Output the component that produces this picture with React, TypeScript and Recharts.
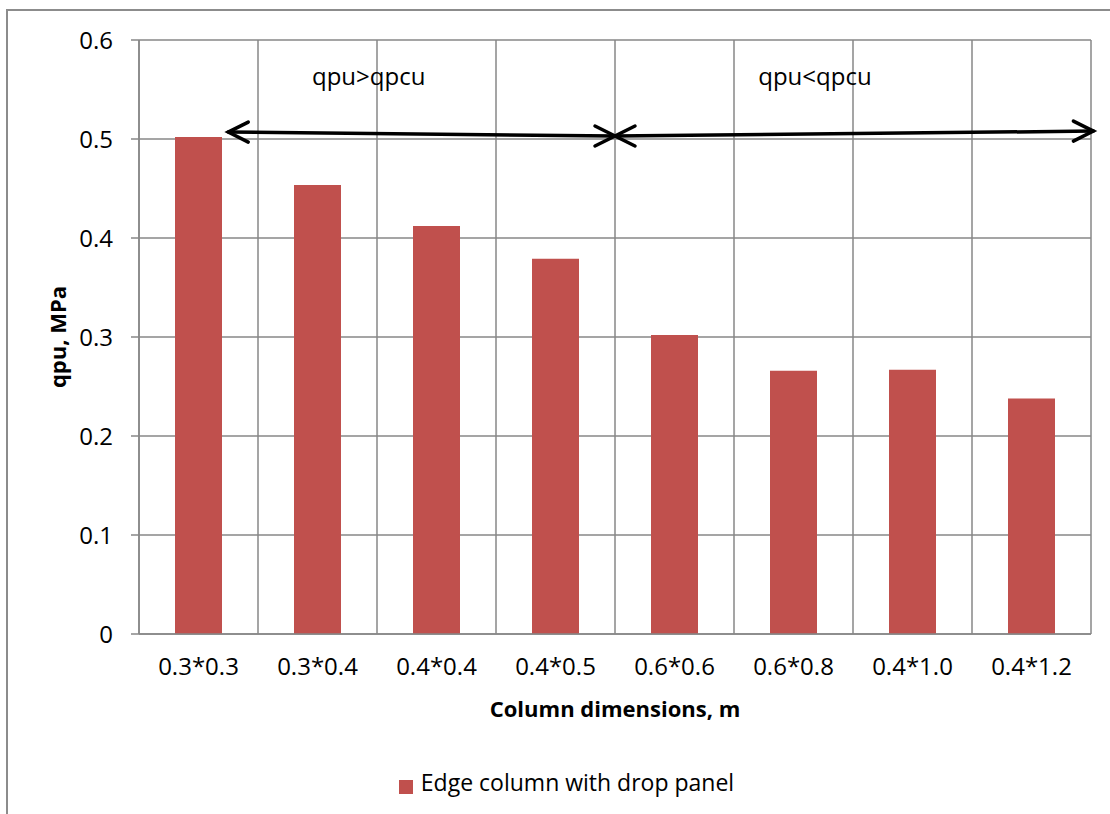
import React from 'react';
import {
  BarChart, Bar, XAxis, YAxis, CartesianGrid, Legend, ReferenceLine, ReferenceDot,
} from 'recharts';

const categories = ['0.3*0.3', '0.3*0.4', '0.4*0.4', '0.4*0.5', '0.6*0.6', '0.6*0.8', '0.4*1.0', '0.4*1.2'];
const qpuValues = [0.502, 0.4535, 0.412, 0.379, 0.302, 0.266, 0.267, 0.238];
const yTicks = [0, 0.1, 0.2, 0.3, 0.4, 0.5, 0.6];
// category boundaries, used for the vertical grid and the x tick marks
const boundaryTicks = [0, 1, 2, 3, 4, 5, 6, 7, 8];
const arrowSpans = [
  { x1: 0.75, y1: 0.507, x2: 4, y2: 0.503 },
  { x1: 4, y1: 0.503, x2: 8.02, y2: 0.508 },
];
const zoneLabels = [
  { x: 1.93, y: 0.5635, text: 'qpu>qpcu' },
  { x: 5.68, y: 0.5635, text: 'qpu<qpcu' },
];

const data = categories.map((label, i) => ({ label, qpu: qpuValues[i] }));

const FONT = '"Open Sans", sans-serif';
const GRID = '#878787';
const BAR = '#C0504D';

const DoubleArrow = (props: any) => {
  const { x1, y1, x2, y2 } = props;
  const head = 20;
  const half = 10;
  return (
    <g stroke="#000" strokeWidth={3.5} strokeLinecap="round" fill="none">
      <line x1={x1} y1={y1} x2={x2} y2={y2} />
      <path d={`M${x1 + head},${y1 - half} L${x1},${y1} L${x1 + head},${y1 + half}`} />
      <path d={`M${x2 - head},${y2 - half} L${x2},${y2} L${x2 - head},${y2 + half}`} />
    </g>
  );
};

const EmptyTick = () => <g />;

export default function App() {
  return (
    <div style={{ position: 'absolute', left: 0, top: 0, width: 1110, height: 814, overflow: 'hidden', background: '#fff' }}>
      <div
        style={{
          position: 'absolute', left: 6, top: 9, width: 1200, height: 900,
          border: '2px solid #8c8c8c', boxSizing: 'border-box',
        }}
      />
      <div style={{ position: 'absolute', left: 0, top: 0 }}>
        <BarChart
          width={1110}
          height={814}
          data={data}
          margin={{ top: 40, right: 19, left: 0, bottom: 0 }}
          style={{ fontFamily: FONT }}
        >
          <CartesianGrid stroke={GRID} strokeWidth={1.5} />
          <XAxis
            type="number"
            dataKey="slot"
            domain={[0, 8]}
            ticks={boundaryTicks}
            allowDataOverflow
            height={0}
            axisLine={false}
            tick={EmptyTick}
            tickLine={{ stroke: GRID, strokeWidth: 1.5 }}
            tickSize={8}
          />
          <XAxis
            xAxisId="cat"
            dataKey="label"
            height={116}
            axisLine={{ stroke: GRID, strokeWidth: 1.5 }}
            tickLine={false}
            tickSize={8}
            tickMargin={16}
            tick={{ fill: '#000', fontSize: 24, fontFamily: FONT }}
            label={{
              value: 'Column dimensions, m',
              position: 'insideTop',
              offset: 67,
              fill: '#000',
              fontSize: 22,
              fontWeight: 'bold',
              fontFamily: FONT,
            }}
          />
          <YAxis
            width={139}
            domain={[0, 0.6]}
            ticks={yTicks}
            tickFormatter={(v: number) => (v === 0 ? '0' : v.toFixed(1))}
            axisLine={{ stroke: GRID, strokeWidth: 1.5 }}
            tickLine={{ stroke: GRID, strokeWidth: 1.5 }}
            tickSize={8}
            tickMargin={18}
            tick={{ fill: '#000', fontSize: 24, fontFamily: FONT }}
            label={{
              content: ({ viewBox }: any) => {
                const cx = viewBox.x + 57;
                const cy = viewBox.y + viewBox.height / 2;
                return (
                  <text
                    x={cx}
                    y={cy}
                    transform={`rotate(-90, ${cx}, ${cy})`}
                    textAnchor="middle"
                    dominantBaseline="central"
                    fontSize={22}
                    fontWeight="bold"
                    fontFamily={FONT}
                    fill="#000"
                  >
                    qpu, MPa
                  </text>
                );
              },
            }}
          />
          <Legend
            verticalAlign="bottom"
            iconType="square"
            iconSize={14}
            wrapperStyle={{
              height: 64, left: 26, width: 1091,
              display: 'flex', alignItems: 'center', justifyContent: 'center',
            }}
            formatter={(value: string) => (
              <span style={{ color: '#000', fontSize: 23, fontFamily: FONT, marginLeft: 4 }}>{value}</span>
            )}
          />
          <Bar
            xAxisId="cat"
            dataKey="qpu"
            name="Edge column with drop panel"
            fill={BAR}
            barSize={47}
            isAnimationActive={false}
          />
          {arrowSpans.map((a, i) => (
            <ReferenceLine
              key={`arrow-${i}`}
              segment={[{ x: a.x1, y: a.y1 }, { x: a.x2, y: a.y2 }]}
              ifOverflow="visible"
              shape={DoubleArrow}
            />
          ))}
          {zoneLabels.map((z, i) => (
            <ReferenceDot
              key={`zone-${i}`}
              x={z.x}
              y={z.y}
              r={0}
              ifOverflow="visible"
              fill="none"
              stroke="none"
              label={{ value: z.text, position: 'center', fill: '#000', fontSize: 24, fontFamily: FONT }}
            />
          ))}
        </BarChart>
      </div>
    </div>
  );
}
